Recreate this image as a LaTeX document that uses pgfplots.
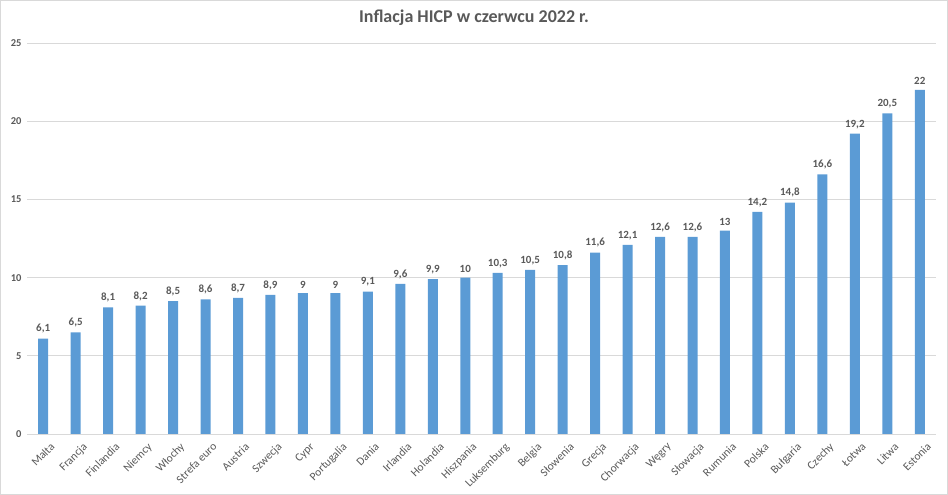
\documentclass[border=0pt]{standalone}
\usepackage{pgfplots}
\pgfplotsset{compat=1.18}
\usepackage{fontspec}
\setmainfont{Carlito}
\definecolor{barblue}{HTML}{5B9BD5}
\definecolor{txt}{HTML}{595959}
\definecolor{gridgray}{HTML}{D9D9D9}
\begin{document}
\begin{tikzpicture}[x=1pt,y=1pt]
\useasboundingbox (0,0) rectangle (948,495);
\draw[gridgray,line width=1pt] (0.5,0.5) rectangle (947.5,494.5);
\node[txt,font=\fontsize{18}{21}\selectfont\bfseries] at (474,477) {Inflacja HICP w czerwcu 2022 r.};
\begin{axis}[
  at={(27pt,61pt)}, anchor=south west,
  scale only axis, width=909pt, height=391pt,
  xmin=-0.5, xmax=27.5, ymin=0, ymax=25,
  ytick={0,5,...,25},
  xtick={0,...,27},
  xticklabels={Malta,Francja,Finlandia,Niemcy,Włochy,Strefa euro,Austria,Szwecja,Cypr,Portugalia,Dania,Irlandia,Holandia,Hiszpania,Luksemburg,Belgia,Słowenia,Grecja,Chorwacja,Węgry,Słowacja,Rumunia,Polska,Bułgaria,Czechy,Łotwa,Litwa,Estonia},
  xticklabel style={rotate=45, anchor=north east, font=\fontsize{11.5}{13}\selectfont, text=txt, inner sep=0pt, yshift=-10pt, xshift=-1pt},
  yticklabel style={font=\fontsize{10.5}{12}\selectfont\bfseries, text=txt, xshift=-2pt},
  /pgf/number format/assume math mode=true,
  ymajorgrids, xmajorgrids=false,
  grid style={draw=gridgray, line width=0.8pt},
  axis lines*=left,
  x axis line style={draw=gridgray, line width=0.8pt, -},
  y axis line style={draw=none},
  major tick length=0pt,
  ybar, bar width=10pt,
  nodes near coords,
  nodes near coords style={font=\fontsize{11}{13}\selectfont\bfseries, text=txt, /pgf/number format/use comma, /pgf/number format/assume math mode=true, inner sep=2pt, yshift=3pt},
  clip=false,
]
\addplot[fill=barblue, draw=none] coordinates {
(0,6.1) (1,6.5) (2,8.1) (3,8.2) (4,8.5) (5,8.6) (6,8.7) (7,8.9) (8,9) (9,9)
(10,9.1) (11,9.6) (12,9.9) (13,10) (14,10.3) (15,10.5) (16,10.8) (17,11.6) (18,12.1) (19,12.6)
(20,12.6) (21,13) (22,14.2) (23,14.8) (24,16.6) (25,19.2) (26,20.5) (27,22)
};
\end{axis}
\end{tikzpicture}
\end{document}
